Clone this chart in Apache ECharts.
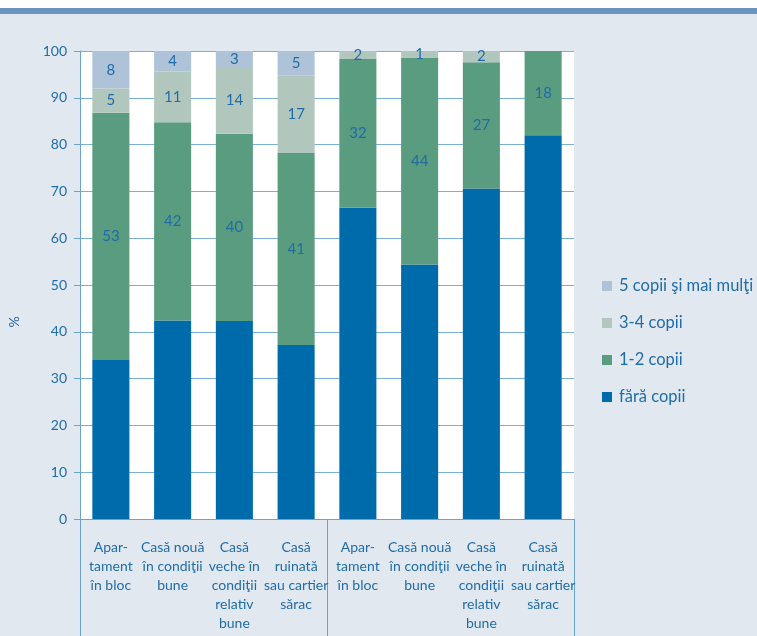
<!DOCTYPE html>
<html>
<head>
<meta charset="utf-8">
<script src="https://cdn.jsdelivr.net/npm/echarts@6/dist/echarts.min.js"></script>
<style>
html,body{margin:0;padding:0;background:#e1e8f0;}
#c{width:757px;height:636px;}
</style>
</head>
<body>
<div id="c"></div>
<script>
const categories = [
  "Apar-\ntament\nîn bloc",
  "Casă nouă\nîn condiţii\nbune",
  "Casă\nveche în\ncondiţii\nrelativ\nbune",
  "Casă\nruinată\nsau cartier\nsărac",
  "Apar-\ntament\nîn bloc",
  "Casă nouă\nîn condiţii\nbune",
  "Casă\nveche în\ncondiţii\nrelativ\nbune",
  "Casă\nruinată\nsau cartier\nsărac"
];
const seriesNames = ["fără copii", "1-2 copii", "3-4 copii", "5 copii şi mai mulţi"];
const faraCopii = [34.0, 42.4, 42.3, 37.2, 66.5, 54.4, 70.6, 82.0];
const copii12   = [52.8, 42.4, 40.0, 41.0, 31.8, 44.2, 27.0, 18.0];
const copii34   = [5.2, 10.8, 14.3, 16.5, 1.7, 1.4, 2.4, 0];
const copii5    = [8.0, 4.4, 3.4, 5.3, 0, 0, 0, 0];
const yTicks = [0, 100, 10];

const colors = ["#006bab", "#5a9c7f", "#b1c7be", "#aec3d7"];
const txt = "#1f6ca8";
const axisCol = "#6aa3cc";
const FONT = "Lato";

const chart = echarts.init(document.getElementById('c'));
function mk(name, data, color, showLabel) {
  return {
    name: name, type: 'bar', stack: 's', data: data, barWidth: '60%',
    itemStyle: { color: color },
    label: {
      show: showLabel, position: 'inside', color: txt, fontFamily: FONT, fontSize: 15,
      formatter: p => (p.value >= 0.5 ? String(Math.round(p.value)) : '')
    },
    emphasis: { disabled: true }
  };
}
chart.setOption({
  backgroundColor: '#e1e8f0',
  animation: false,
  textStyle: { fontFamily: FONT },
  graphic: [
    { type: 'rect', shape: { x: 0, y: 0, width: 757, height: 8 }, style: { fill: '#ffffff' }, z: -10 },
    { type: 'rect', shape: { x: 0, y: 8, width: 757, height: 6 }, style: { fill: '#6894bd' }, z: -10 },
    { type: 'text', x: 14, y: 322, rotation: Math.PI / 2,
      style: { text: '%', fill: txt, font: '14px ' + FONT, align: 'center', verticalAlign: 'middle' } }
  ],
  legend: {
    orient: 'vertical', left: 597, top: 272,
    itemWidth: 10, itemHeight: 10, itemGap: 19, icon: 'rect',
    data: [seriesNames[3], seriesNames[2], seriesNames[1], seriesNames[0]],
    textStyle: { color: txt, fontSize: 16.5, fontFamily: FONT, lineHeight: 18, padding: [0, 0, 0, 2] },
    selectedMode: false
  },
  grid: { left: 80, right: 183, top: 51, bottom: 117, show: true, backgroundColor: '#ffffff', borderWidth: 0 },
  xAxis: [
    {
      type: 'category', data: categories, position: 'bottom',
      axisLine: { show: true, lineStyle: { color: axisCol, width: 1 } },
      axisTick: { show: false },
      axisLabel: { color: txt, fontSize: 14, fontFamily: FONT, lineHeight: 19, margin: 19, interval: 0, align: 'center' }
    },
    {
      type: 'category', data: ['', ''], position: 'bottom', gridIndex: 0,
      axisLine: { show: false },
      axisTick: { show: true, length: 120, lineStyle: { color: axisCol, width: 1 } },
      axisLabel: { show: false }
    }
  ],
  yAxis: {
    type: 'value', min: yTicks[0], max: yTicks[1], interval: yTicks[2],
    axisLine: { show: true, lineStyle: { color: axisCol } },
    axisTick: { show: true, length: 6, lineStyle: { color: axisCol } },
    axisLabel: { color: txt, fontSize: 14, fontFamily: FONT, margin: 13 },
    splitLine: { show: true, lineStyle: { color: '#7ab0d3', width: 1 } }
  },
  series: [
    mk(seriesNames[0], faraCopii, colors[0], false),
    mk(seriesNames[1], copii12, colors[1], true),
    mk(seriesNames[2], copii34, colors[2], true),
    mk(seriesNames[3], copii5, colors[3], true)
  ]
});
</script>
</body>
</html>
